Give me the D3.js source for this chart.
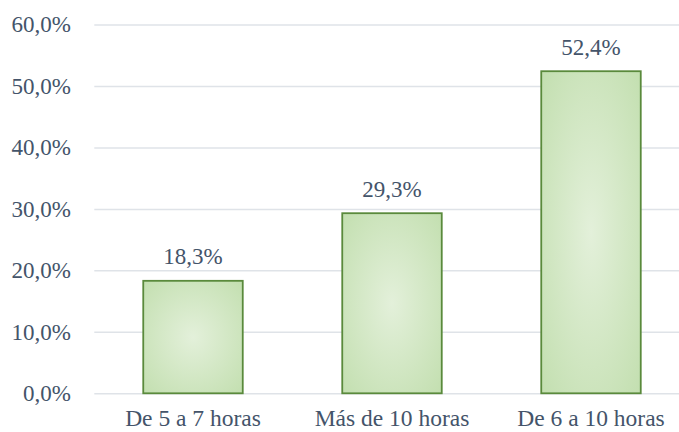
<!DOCTYPE html>
<html>
<head>
<meta charset="utf-8">
<script src="https://cdn.jsdelivr.net/npm/d3@7"></script>
<style>
  html, body { margin: 0; padding: 0; background: #fff; }
  svg { display: block; }
  svg text { font-family: "Liberation Serif", "Times New Roman", Tinos, "DejaVu Serif", serif; }
</style>
</head>
<body>
<svg id="chart" width="679" height="432"></svg>
<script>
const categories = ["De 5 a 7 horas", "Más de 10 horas", "De 6 a 10 horas"];
const values = [18.3, 29.3, 52.4];
const yTicks = [0, 10, 20, 30, 40, 50, 60];

const W = 679, H = 432;
const textColor = "#44546A";
const svg = d3.select("#chart");

const x = d3.scaleBand().domain(categories).range([93.5, 690.5])
  .paddingInner(0.5).paddingOuter(0.25);
const y = d3.scaleLinear().domain([0, 60]).range([393.3, 24.5]);

const fmt = v => d3.format(".1f")(v).replace(".", ",") + "%";

const defs = svg.append("defs");
const grad = defs.append("radialGradient").attr("id", "barGrad")
  .attr("cx", "50%").attr("cy", "50%").attr("r", "70%");
grad.append("stop").attr("offset", "0%").attr("stop-color", "#e3f0da");
grad.append("stop").attr("offset", "100%").attr("stop-color", "#c3dfb0");

// gridlines + y labels
const yAxis = d3.axisLeft(y).tickValues(yTicks).tickSize(-(W - 94.3)).tickFormat(fmt);
const gy = svg.append("g").attr("transform", "translate(94.3,0)").call(yAxis);
gy.attr("font-family", null).attr("font-size", null);
gy.select(".domain").remove();
gy.selectAll(".tick line").attr("stroke", "#dfe3e8").attr("stroke-width", 1.5);
gy.selectAll(".tick text")
  .attr("x", 71 - 94.3)
  .attr("dy", "0.32em")
  .attr("fill", textColor)
  .style("font-size", "23px");

// bars
svg.append("g").selectAll("rect").data(values).join("rect")
  .attr("x", (d, i) => x(categories[i]))
  .attr("y", d => y(d))
  .attr("width", x.bandwidth())
  .attr("height", d => y(0) - y(d))
  .attr("fill", "url(#barGrad)")
  .attr("stroke", "#5a8a3c")
  .attr("stroke-width", 1.8);

// data labels
svg.append("g").selectAll("text").data(values).join("text")
  .attr("x", (d, i) => x(categories[i]) + x.bandwidth() / 2)
  .attr("y", d => y(d) - 16.5)
  .attr("text-anchor", "middle")
  .attr("fill", textColor)
  .style("font-size", "23px")
  .text(d => fmt(d));

// x axis labels
const xAxis = d3.axisBottom(x).tickSize(0).tickPadding(0);
const gx = svg.append("g").attr("transform", `translate(0,${y(0)})`).call(xAxis);
gx.attr("font-family", null).attr("font-size", null);
gx.select(".domain").remove();
gx.selectAll(".tick text")
  .attr("y", 33)
  .attr("dy", 0)
  .attr("fill", textColor)
  .style("font-size", "23.5px");
</script>
</body>
</html>
